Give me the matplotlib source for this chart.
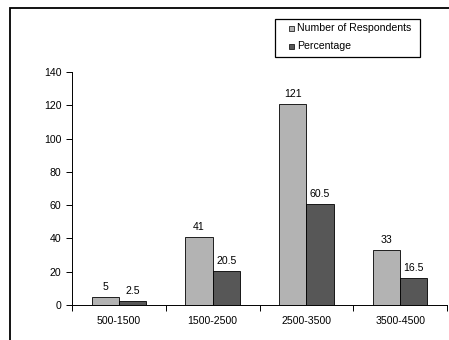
import matplotlib.pyplot as plt
import matplotlib.patches as mpatches
import numpy as np

plt.rcParams['font.family'] = ['Liberation Sans', 'DejaVu Sans']

categories = ['500-1500', '1500-2500', '2500-3500', '3500-4500']
respondents = [5, 41, 121, 33]
percentage = [2.5, 20.5, 60.5, 16.5]
yticks = [0, 20, 40, 60, 80, 100, 120, 140]
series_names = ['Number of Respondents', 'Percentage']

c_resp = '#b3b3b3'
c_pct = '#575757'

W, H = 449, 340
fig = plt.figure(figsize=(W / 100, H / 100), dpi=100)
ax = fig.add_axes([0.160, 0.103, 0.836, 0.685])


def px(x, y):
    # pixel position (from top-left) -> figure fraction
    return x / W, 1 - y / H


x = np.arange(len(categories))
w = 0.29
b1 = ax.bar(x - w / 2, respondents, w, color=c_resp, edgecolor='black', linewidth=0.6)
b2 = ax.bar(x + w / 2, percentage, w, color=c_pct, edgecolor='black', linewidth=0.6)

for rect, v in zip(b1, respondents):
    ax.text(rect.get_x() + rect.get_width() / 2, v + 3, f'{v:g}', ha='center', va='bottom', fontsize=7.6)
for rect, v in zip(b2, percentage):
    ax.text(rect.get_x() + rect.get_width() / 2, v + 3, f'{v:g}', ha='center', va='bottom', fontsize=7.6)

ax.set_xlim(-0.5, len(categories) - 0.5)
ax.set_ylim(0, 140)
ax.set_yticks(yticks)
ax.set_xticks(x)
ax.set_xticklabels(categories, fontsize=7.6)
ax.set_xticks(np.arange(len(categories) + 1) - 0.5, minor=True)
ax.tick_params(axis='x', which='major', length=0, pad=8)
ax.tick_params(axis='x', which='minor', length=4, width=0.7, direction='out')
ax.tick_params(axis='y', labelsize=7.6, length=4, width=0.7, direction='out')
for s in ['top', 'right']:
    ax.spines[s].set_visible(False)
ax.spines['left'].set_linewidth(0.7)
ax.spines['bottom'].set_linewidth(0.7)

# legend box drawn by hand
x0, y0 = px(275, 57)
x1, y1 = px(420, 19)
fig.patches.append(mpatches.Rectangle((x0, y0), x1 - x0, y1 - y0, transform=fig.transFigure,
                                      fill=False, edgecolor='black', linewidth=0.9))
for i, (name, c) in enumerate(zip(series_names, (c_resp, c_pct))):
    yc = 28 + 18 * i
    mx, my = px(288.5, yc + 2.5)
    fig.patches.append(mpatches.Rectangle((mx, my), 5 / W, 5 / H, transform=fig.transFigure,
                                          facecolor=c, edgecolor='black', linewidth=0.5))
    tx, ty = px(297, yc)
    fig.text(tx, ty, name, ha='left', va='center', fontsize=7.6)

# outer chart frame
fig.patches.append(mpatches.Rectangle((10 / W, -0.1), 1.2, 1 - 8 / H + 0.1, transform=fig.transFigure,
                                      fill=False, edgecolor='black', linewidth=1.3))

fig.savefig('out.png', dpi=100)
